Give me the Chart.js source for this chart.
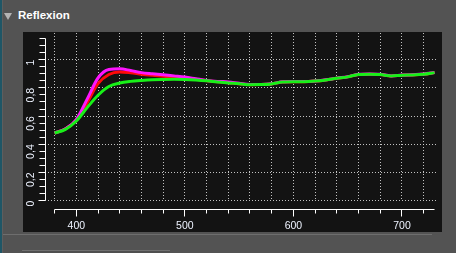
<!DOCTYPE html>
<html>
<head>
<meta charset="utf-8">
<script src="https://cdn.jsdelivr.net/npm/chart.js@4.4.1/dist/chart.umd.min.js"></script>
<style>
  html, body { margin: 0; padding: 0; width: 456px; height: 253px; overflow: hidden; background: #535353; }
  #strip { position: absolute; left: 0; top: 0; width: 2px; height: 253px; background: #1f5666; }
  #edge { position: absolute; left: 2px; top: 0; width: 1px; height: 253px; background: #5e5e5e; }
  #tri { position: absolute; left: 4px; top: 13px; width: 0; height: 0;
         border-left: 4px solid transparent; border-right: 4px solid transparent; border-top: 7px solid #b4b4b4; }
  #title { position: absolute; left: 18px; top: 9px; font: bold 11.5px "Liberation Sans", Arial, sans-serif; color: #ffffff; }
  #panel { position: absolute; left: 23px; top: 32px; width: 419px; height: 200px; background: #131313; }
  #sep { position: absolute; left: 3px; top: 234px; width: 429px; height: 1px; background: #6e6e6e; }
  #box { position: absolute; left: 22px; top: 250px; width: 148px; height: 10px; border-top: 1px solid #707070; background: #4f4f4f; }
  #wrap { position: absolute; left: 0; top: 0; width: 456px; height: 253px; }
</style>
</head>
<body>
<div id="strip"></div>
<div id="edge"></div>
<div id="tri"></div>
<div id="title">Reflexion</div>
<div id="panel"></div>
<div id="sep"></div>
<div id="box"></div>
<div id="wrap"><canvas id="c" width="456" height="253"></canvas></div>
<script>
// ---- data ----
const wavelengths = [380,390,400,410,420,430,440,450,460,470,480,490,500,510,520,530,540,550,560,570,580,590,600,610,620,630,640,650,660,670,680,690,700,710,720,730];
const seriesMagenta = [0.48,0.51,0.575,0.72,0.87,0.93,0.935,0.923,0.908,0.9,0.893,0.885,0.877,0.865,0.853,0.846,0.842,0.832,0.824,0.824,0.829,0.843,0.845,0.845,0.849,0.857,0.869,0.879,0.896,0.898,0.896,0.885,0.891,0.893,0.898,0.909];
const seriesRed     = [0.48,0.51,0.57,0.695,0.83,0.895,0.913,0.907,0.897,0.889,0.882,0.876,0.871,0.861,0.851,0.843,0.836,0.83,0.822,0.823,0.828,0.842,0.844,0.844,0.848,0.856,0.868,0.878,0.895,0.897,0.895,0.884,0.89,0.892,0.897,0.908];
const seriesGreen   = [0.48,0.506,0.565,0.66,0.748,0.81,0.834,0.846,0.853,0.858,0.86,0.861,0.86,0.856,0.85,0.842,0.835,0.83,0.822,0.823,0.828,0.842,0.844,0.844,0.848,0.856,0.868,0.878,0.895,0.897,0.895,0.884,0.89,0.892,0.897,0.908];
const xTickLabels = [400, 500, 600, 700];
const yTickLabels = ['0', '0,2', '0,4', '0,6', '0,8', '1'];

const toPoints = (arr) => arr.map((v, i) => ({ x: wavelengths[i], y: v }));

const axesPlugin = {
  id: 'offsetAxes',
  afterDraw(chart) {
    const xs = chart.scales.x, ys = chart.scales.y, ctx = chart.ctx;
    ctx.save();
    ctx.strokeStyle = '#ffffff';
    ctx.lineWidth = 1;
    // x axis (offset below plot)
    const ay = Math.round(ys.getPixelForValue(0) + 8.6) + 0.5;
    const x0 = xs.getPixelForValue(380), x1 = xs.getPixelForValue(730);
    ctx.beginPath();
    ctx.moveTo(x0, ay); ctx.lineTo(x1, ay);
    for (let v = 380; v <= 720; v += 20) {
      const px = Math.round(xs.getPixelForValue(v) - 0.5) + 0.5;
      const len = (v % 100 === 0) ? 7 : 4;
      ctx.moveTo(px, ay); ctx.lineTo(px, ay + len);
    }
    ctx.stroke();
    // y axis (offset left of plot)
    const ax = Math.round(xs.left - 3.5) + 0.5;
    ctx.beginPath();
    ctx.moveTo(ax, ys.getPixelForValue(0)); ctx.lineTo(ax, ys.getPixelForValue(1.15));
    for (let k = 0; k <= 23; k++) {
      const v = k * 0.05;
      const py = Math.round(ys.getPixelForValue(v) - 0.5) + 0.5;
      const len = (k % 4 === 0) ? 7 : 6;
      ctx.moveTo(ax, py); ctx.lineTo(ax - len, py);
    }
    ctx.stroke();
    ctx.restore();
  }
};

const gridColor = 'rgba(215,215,215,0.9)';
const tickFont = { family: '"Liberation Sans", Arial, sans-serif', size: 10.5 };

new Chart(document.getElementById('c'), {
  type: 'line',
  data: {
    datasets: [
      { label: 'R3', data: toPoints(seriesRed), borderColor: '#ff0a0a', borderWidth: 3, pointRadius: 0, tension: 0.4, cubicInterpolationMode: 'monotone', order: 3 },
      { label: 'R1', data: toPoints(seriesMagenta), borderColor: '#ff14ff', borderWidth: 3, pointRadius: 0, tension: 0.4, cubicInterpolationMode: 'monotone', order: 2 },
      { label: 'R2', data: toPoints(seriesGreen), borderColor: '#18f018', borderWidth: 3, pointRadius: 0, tension: 0.4, cubicInterpolationMode: 'monotone', order: 1 }
    ]
  },
  options: {
    responsive: false,
    animation: false,
    events: [],
    layout: { padding: { left: 0, right: 18, top: 33, bottom: 0 } },
    plugins: { legend: { display: false }, tooltip: { enabled: false } },
    scales: {
      x: {
        type: 'linear',
        min: 374.2,
        max: 733.2,
        afterFit: (s) => { s.height = 52.3; },
        grid: { color: gridColor, lineWidth: 1, drawTicks: false },
        border: { display: false, dash: [1, 2] },
        ticks: {
          stepSize: 20,
          includeBounds: false,
          autoSkip: false,
          maxRotation: 0,
          padding: 19,
          color: '#eef3ff',
          font: tickFont,
          callback: (v) => xTickLabels.includes(v) ? String(v) : ''
        }
      },
      y: {
        type: 'linear',
        min: 0,
        max: 1.189,
        afterFit: (s) => { s.width = 48.3; },
        grid: { color: gridColor, lineWidth: 1, drawTicks: false },
        border: { display: false, dash: [1, 2] },
        ticks: {
          stepSize: 0.2,
          includeBounds: false,
          autoSkip: false,
          minRotation: 90,
          maxRotation: 90,
          padding: 17,
          color: '#eef3ff',
          font: tickFont,
          callback: (v) => { const i = Math.round(v / 0.2); return yTickLabels[i] !== undefined ? yTickLabels[i] : ''; }
        }
      }
    }
  },
  plugins: [axesPlugin]
});
</script>
</body>
</html>
